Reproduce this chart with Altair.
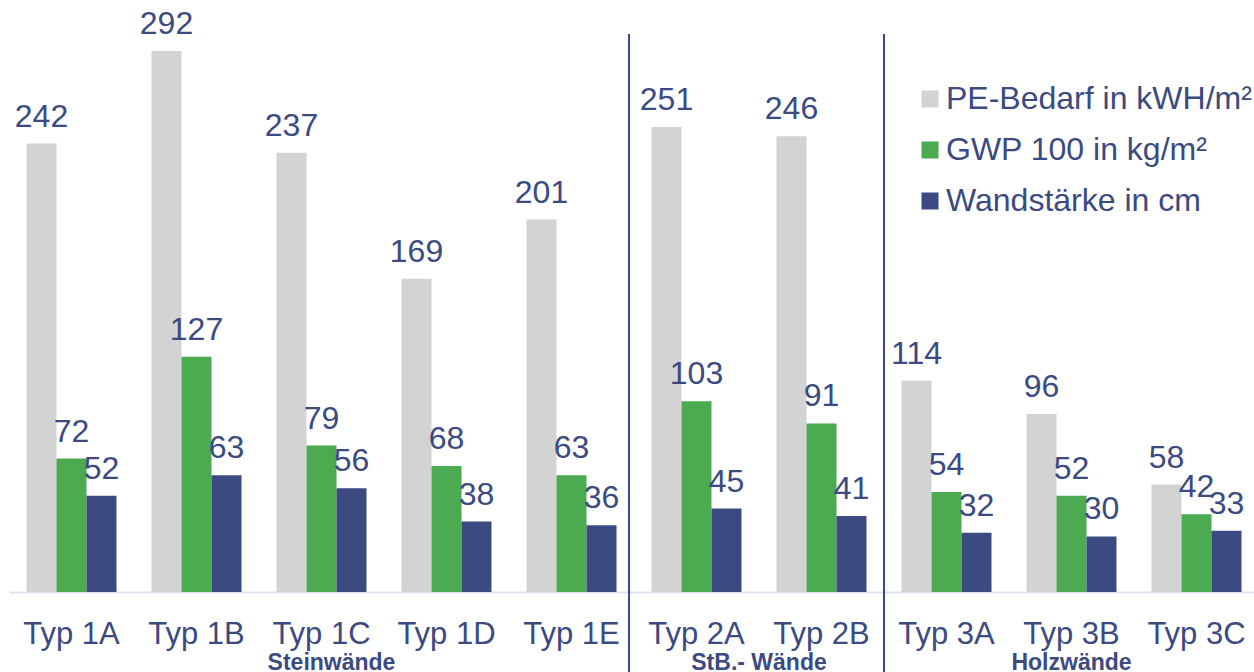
import altair as alt
import pandas as pd

categories = ["Typ 1A", "Typ 1B", "Typ 1C", "Typ 1D", "Typ 1E",
              "Typ 2A", "Typ 2B", "Typ 3A", "Typ 3B", "Typ 3C"]
pe_bedarf = [242, 292, 237, 169, 201, 251, 246, 114, 96, 58]
gwp100 = [72, 127, 79, 68, 63, 103, 91, 54, 52, 42]
wandstaerke = [52, 63, 56, 38, 36, 45, 41, 32, 30, 33]
series = ["PE-Bedarf in kWH/m²", "GWP 100 in kg/m²", "Wandstärke in cm"]
colors = ["#d3d3d3", "#4caa50", "#3b4a80"]
groups = ["Steinwände", "StB.- Wände", "Holzwände"]
group_anchor = ["Typ 1C", "Typ 2B", "Typ 3B"]
separators = ["Typ 2A", "Typ 3A"]

NAVY = "#3b4a80"
FONT = "Liberation Sans"

rows = []
for i, c in enumerate(categories):
    for s, vals in zip(series, [pe_bedarf, gwp100, wandstaerke]):
        rows.append({"Typ": c, "series": s, "value": vals[i]})
df = pd.DataFrame(rows)

x_scale = alt.Scale(paddingInner=0, paddingOuter=0, range=[0, 1250])
x_axis = alt.Axis(title=None, labelFontSize=31, labelColor=NAVY, labelFont=FONT,
                  labelBaseline="alphabetic", labelPadding=51, ticks=False, tickSize=0,
                  domainColor="#dfe3ef", domainWidth=2, labelAngle=0, grid=False)


def xenc(**kw):
    return alt.X("Typ:N", sort=categories, scale=x_scale, axis=x_axis, **kw)


y_enc = alt.Y("value:Q", scale=alt.Scale(domain=[0, 319.5], nice=False), axis=None)
xoff = alt.XOffset("series:N", sort=series,
                   scale=alt.Scale(paddingInner=0, paddingOuter=0.5833))

base = alt.Chart(df)
bars = base.mark_bar().encode(
    x=xenc(), y=y_enc, xOffset=xoff,
    color=alt.Color("series:N", sort=series,
                    scale=alt.Scale(domain=series, range=colors),
                    legend=alt.Legend(title=None, orient="none", legendX=905, legendY=83,
                                      labelFontSize=32, labelColor=NAVY, labelFont=FONT,
                                      symbolType="square", symbolSize=289,
                                      symbolStrokeWidth=0, symbolOpacity=1,
                                      labelOffset=0, rowPadding=19, labelLimit=400)),
)
labels = base.mark_text(baseline="alphabetic", dy=-17, fontSize=32, color=NAVY,
                        font=FONT).encode(
    x=xenc(), y=y_enc, xOffset=xoff,
    text=alt.Text("value:Q"),
)

sep_df = pd.DataFrame({"Typ": separators})
rule1 = alt.Chart(sep_df.iloc[[0]]).mark_rule(color=NAVY, strokeWidth=2, xOffset=-5).encode(
    x=xenc(bandPosition=0), y=alt.value(34), y2=alt.value(672))
rule2 = alt.Chart(sep_df.iloc[[1]]).mark_rule(color=NAVY, strokeWidth=2).encode(
    x=xenc(bandPosition=0), y=alt.value(34), y2=alt.value(672))

gdf = pd.DataFrame({"Typ": group_anchor, "group": groups})
gstyle = dict(baseline="alphabetic", fontSize=23, fontWeight="bold", color=NAVY, font=FONT)
g1 = alt.Chart(gdf.iloc[[0]]).mark_text(dx=10, **gstyle).encode(
    x=xenc(), y=alt.value(670), text="group:N")
g2 = alt.Chart(gdf.iloc[[1]]).mark_text(**gstyle).encode(
    x=xenc(bandPosition=0), y=alt.value(670), text="group:N")
g3 = alt.Chart(gdf.iloc[[2]]).mark_text(**gstyle).encode(
    x=xenc(), y=alt.value(670), text="group:N")

chart = alt.layer(bars, labels, rule1, rule2, g1, g2, g3).properties(
    width=1245, height=592,
    autosize=alt.AutoSizeParams(type="none"),
    padding={"left": 9, "top": 0, "right": 0, "bottom": 80},
).configure_view(stroke=None)

chart.save("out.html", embed_options={"renderer": "svg", "actions": False})
